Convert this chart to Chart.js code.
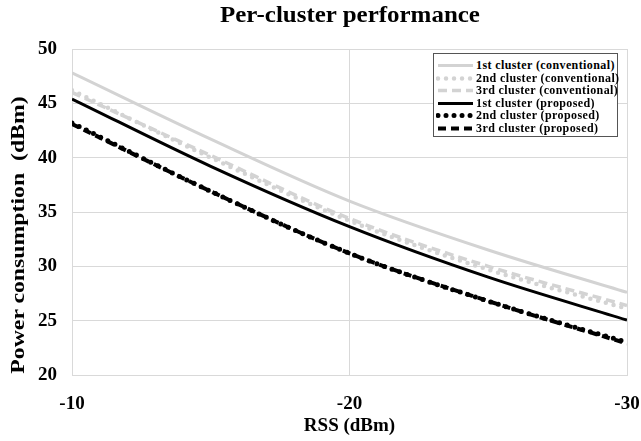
<!DOCTYPE html>
<html><head><meta charset="utf-8">
<script src="https://cdn.jsdelivr.net/npm/chart.js@4/dist/chart.umd.min.js"></script>
<style>
html,body{margin:0;padding:0;background:#fff;}
#wrap{position:relative;width:641px;height:441px;font-family:"Liberation Serif","Times New Roman",serif;font-weight:bold;color:#000;}
canvas{position:absolute;left:0;top:0;}
#title{position:absolute;left:150px;width:400px;top:1px;text-align:center;font-size:24px;transform:scaleX(1.04);}
#ytitle{position:absolute;left:18px;top:235px;width:320px;text-align:center;font-size:19px;transform:translate(-50%,-50%) rotate(-90deg) scaleX(1.25);white-space:nowrap;}
#legend{position:absolute;left:433px;top:53px;width:183px;height:82px;border:1px solid #555;background:#fff;font-size:12px;}
.row{position:absolute;left:2px;height:13px;white-space:nowrap;line-height:13px;}
.row svg{position:absolute;left:0;top:0;}
.row span{position:absolute;left:40px;top:0;letter-spacing:0.4px;}
</style></head>
<body><div id="wrap">
<canvas id="c" width="641" height="441"></canvas>
<div id="title">Per-cluster performance</div>
<div id="ytitle">Power consumption&nbsp; (dBm)</div>
<div id="legend"></div>
</div>
<script>
const rss = [-10, -15, -20, -25, -30];
const conv1 = [47.8, 41.7, 36.0, 31.5, 27.6];
const conv2 = [46.2, 40.0, 34.2, 29.7, 26.1];
const conv3 = [46.0, 40.2, 34.4, 30.0, 26.4];
const prop1 = [45.4, 39.2, 33.65, 29.0, 25.05];
const prop2 = [43.2, 36.9, 31.2, 26.8, 23.0];
const prop3 = [43.1, 36.9, 31.2, 26.8, 22.9];
const seriesNames = ["1st cluster (conventional)","2nd cluster (conventional)","3rd cluster (conventional)","1st cluster (proposed)","2nd cluster (proposed)","3rd cluster (proposed)"];
const xTicks = [-10, -20, -30];
const yTicks = [20, 25, 30, 35, 40, 45, 50];

const light = "#d3d3d3";
const styles = [
  {color: light, width: 3, dash: [], cap: "butt"},
  {color: light, width: 4.5, dash: [0, 8], cap: "round"},
  {color: light, width: 3.5, dash: [9, 5], cap: "butt"},
  {color: "#000", width: 3, dash: [], cap: "butt"},
  {color: "#000", width: 5, dash: [0, 8], cap: "round"},
  {color: "#000", width: 4, dash: [8, 5], cap: "butt"}
];
const allData = [conv1, conv2, conv3, prop1, prop2, prop3];
const datasets = allData.map((arr, i) => ({
  label: seriesNames[i],
  data: rss.map((x, j) => ({x: x, y: arr[j]})),
  borderColor: styles[i].color,
  borderWidth: styles[i].width,
  borderDash: styles[i].dash,
  borderCapStyle: styles[i].cap,
  pointRadius: 0,
  fill: false,
  cubicInterpolationMode: "monotone"
}));

// HTML legend
const lg = document.getElementById("legend");
seriesNames.forEach((n, i) => {
  const s = styles[i];
  const row = document.createElement("div");
  row.className = "row";
  row.style.top = (5 + i * 12.6) + "px";
  row.innerHTML = `<svg width="40" height="13"><line x1="2" y1="6.5" x2="37" y2="6.5" stroke="${s.color}" stroke-width="${s.width}" stroke-dasharray="${s.dash.length ? s.dash.map(v => v === 0 ? 0.01 : v).join(',') : 'none'}" stroke-linecap="${s.cap}"/></svg><span>${n}</span>`;
  lg.appendChild(row);
});

const font = {family: "'Liberation Serif', 'Times New Roman', serif", weight: "bold"};
new Chart(document.getElementById("c"), {
  type: "line",
  data: {datasets: datasets},
  options: {
    responsive: false,
    animation: false,
    layout: {padding: {left: 0, right: 14, top: 49, bottom: 0}},
    plugins: {legend: {display: false}, title: {display: false}, tooltip: {enabled: false}},
    scales: {
      x: {
        type: "linear", min: -30, max: -10, reverse: true,
        afterBuildTicks: s => { s.ticks = xTicks.map(v => ({value: v})); },
        afterFit: s => { s.height = 66; s.paddingLeft = 0; s.paddingRight = 0; },
        ticks: {color: "#000", font: {...font, size: 19}, padding: 18},
        grid: {color: "#d9d9d9", lineWidth: 1, drawTicks: false},
        border: {color: "#d9d9d9"},
        title: {display: true, text: "RSS (dBm)", color: "#000", font: {...font, size: 19}, padding: {top: 4}}
      },
      y: {
        min: 20, max: 50,
        afterBuildTicks: s => { s.ticks = yTicks.map(v => ({value: v})); },
        afterFit: s => { s.width = 72; s.paddingTop = 0; s.paddingBottom = 0; },
        ticks: {color: "#000", font: {...font, size: 19}, padding: 15},
        grid: {color: "#d9d9d9", lineWidth: 1, drawTicks: false},
        border: {color: "#d9d9d9"}
      }
    }
  }
});
</script>
</body></html>
